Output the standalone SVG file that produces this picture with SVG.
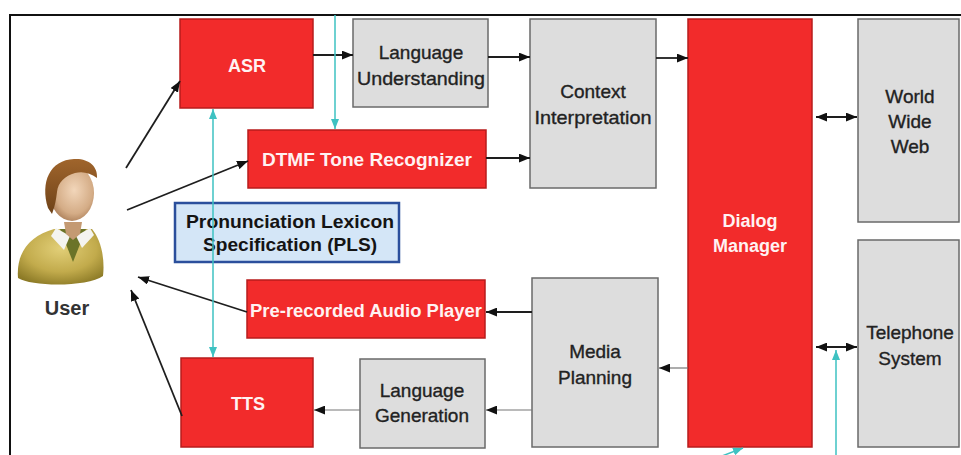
<svg xmlns="http://www.w3.org/2000/svg" width="961" height="455" viewBox="0 0 961 455">
  <style>
    .red { fill: #f22b2b; stroke: #b81c1c; stroke-width: 1.5; }
    .gray { fill: #dddddd; stroke: #6a6a6a; stroke-width: 1.5; }
    .rt { font-family: "Liberation Sans", Arial, sans-serif; font-size: 18px; font-weight: bold; fill: #fff2f2; text-anchor: middle; }
    .gt { font-family: "Liberation Sans", Arial, sans-serif; font-size: 19px; fill: #222222; stroke: #222222; stroke-width: 0.35; text-anchor: middle; }
    .bt { font-family: "Liberation Sans", Arial, sans-serif; font-size: 19px; font-weight: bold; fill: #141414; text-anchor: middle; }
    .arrow { fill: none; stroke: #1e1e1e; stroke-width: 1.8; marker-end: url(#ah); }
    .faint { fill: none; stroke: #777777; stroke-width: 1.2; marker-end: url(#ah); }
    .both { fill: none; stroke: #1e1e1e; stroke-width: 1.8; marker-start: url(#ah); marker-end: url(#ah); }
    .teal { fill: none; stroke: #3ec2c2; stroke-width: 1.5; }
  </style>
  <defs>
    <marker id="ah" viewBox="0 0 10 8" refX="10" refY="4" markerWidth="11" markerHeight="9" markerUnits="userSpaceOnUse" orient="auto-start-reverse">
      <path d="M0,0 L10,4 L0,8 Z" fill="#111"/>
    </marker>
    <marker id="th" viewBox="0 0 10 8" refX="10" refY="4" markerWidth="10" markerHeight="8" markerUnits="userSpaceOnUse" orient="auto-start-reverse">
      <path d="M0,0 L10,4 L0,8 Z" fill="#3ec2c2"/>
    </marker>
    <radialGradient id="skin" cx="0.55" cy="0.45" r="0.6">
      <stop offset="0" stop-color="#f2d6ba"/>
      <stop offset="0.7" stop-color="#d4ac86"/>
      <stop offset="1" stop-color="#a97c56"/>
    </radialGradient>
    <linearGradient id="hair" x1="0" y1="0" x2="0" y2="1">
      <stop offset="0" stop-color="#a0652c"/>
      <stop offset="1" stop-color="#6e4218"/>
    </linearGradient>
    <radialGradient id="sweater" cx="0.5" cy="0.35" r="0.7">
      <stop offset="0" stop-color="#e2cf78"/>
      <stop offset="0.6" stop-color="#c2ab4c"/>
      <stop offset="1" stop-color="#8c7a26"/>
    </radialGradient>
  </defs>

  <rect width="961" height="455" fill="#ffffff"/>
  <!-- outer frame -->
  <path d="M10,455 L10,15 L961,15" fill="none" stroke="#111" stroke-width="2"/>

  <g id="user">
    <path d="M18,278 C16,252 30,236 54,229 L92,229 C101,240 105,258 103,276 C88,287 32,287 18,278 Z" fill="url(#sweater)"/>
    <path d="M60,229 L86,229 L73,262 Z" fill="#6b7428"/>
    <path d="M56,228 L70,236 L64,250 L51,236 Z" fill="#f4f4f0"/>
    <path d="M90,228 L76,236 L82,248 L94,235 Z" fill="#f4f4f0"/>
    <path d="M64,222 L82,222 L80,234 L73,240 L66,234 Z" fill="#c49a72"/>
    <ellipse cx="72" cy="193" rx="22" ry="28" fill="url(#skin)"/>
    <path d="M48,208 C40,182 50,160 74,159 C88,158 98,166 97,178 C90,173 83,171 75,173 C65,176 58,182 57,192 C56,200 55,206 52,214 Z" fill="url(#hair)"/>
    <text x="67" y="315" font-family="'Liberation Sans', Arial, sans-serif" font-size="20" font-weight="bold" fill="#333" text-anchor="middle">User</text>
  </g>

  <g id="asr">
    <rect class="red" x="180" y="19" width="133" height="89"/>
    <text class="rt" x="247" y="72">ASR</text>
  </g>
  <g id="dtmf">
    <rect class="red" x="248" y="130" width="238" height="58"/>
    <text class="rt" x="367" y="166" textLength="210" lengthAdjust="spacingAndGlyphs">DTMF Tone Recognizer</text>
  </g>
  <g id="pls">
    <rect x="175" y="203" width="224" height="59" fill="#d4e6f7" stroke="#2b4f9c" stroke-width="2.5"/>
    <text class="bt" x="290" y="228" textLength="208" lengthAdjust="spacingAndGlyphs">Pronunciation Lexicon</text>
    <text class="bt" x="290" y="251" textLength="174" lengthAdjust="spacingAndGlyphs">Specification (PLS)</text>
  </g>
  <g id="audio-player">
    <rect class="red" x="247" y="280" width="238" height="58"/>
    <text class="rt" x="366" y="317" textLength="232" lengthAdjust="spacingAndGlyphs">Pre-recorded Audio Player</text>
  </g>
  <g id="tts">
    <rect class="red" x="181" y="358" width="132" height="89"/>
    <text class="rt" x="248" y="410">TTS</text>
  </g>
  <g id="language-understanding">
    <rect class="gray" x="353" y="19" width="135" height="88"/>
    <text class="gt" x="421" y="59">Language</text>
    <text class="gt" x="421" y="85" textLength="128" lengthAdjust="spacingAndGlyphs">Understanding</text>
  </g>
  <g id="context-interpretation">
    <rect class="gray" x="530" y="19" width="126" height="169"/>
    <text class="gt" x="593" y="98">Context</text>
    <text class="gt" x="593" y="124" textLength="117" lengthAdjust="spacingAndGlyphs">Interpretation</text>
  </g>
  <g id="dialog-manager">
    <rect class="red" x="688" y="19" width="124" height="428"/>
    <text class="rt" x="750" y="227">Dialog</text>
    <text class="rt" x="750" y="252">Manager</text>
  </g>
  <g id="world-wide-web">
    <rect class="gray" x="858" y="19" width="101" height="203"/>
    <text class="gt" x="910" y="103">World</text>
    <text class="gt" x="910" y="128">Wide</text>
    <text class="gt" x="910" y="153">Web</text>
  </g>
  <g id="telephone-system">
    <rect class="gray" x="858" y="240" width="101" height="207"/>
    <text class="gt" x="910" y="339">Telephone</text>
    <text class="gt" x="910" y="365">System</text>
  </g>
  <g id="media-planning">
    <rect class="gray" x="532" y="278" width="126" height="169"/>
    <text class="gt" x="595" y="358">Media</text>
    <text class="gt" x="595" y="384">Planning</text>
  </g>
  <g id="language-generation">
    <rect class="gray" x="360" y="359" width="125" height="89"/>
    <text class="gt" x="422" y="397">Language</text>
    <text class="gt" x="422" y="422">Generation</text>
  </g>

  <g id="connectors">
    <path class="arrow" d="M313,55 L353,55"/>
    <path class="arrow" d="M488,57 L530,57"/>
    <path class="arrow" d="M486,158 L530,158"/>
    <path class="arrow" d="M656,58 L688,58"/>
    <path class="both" d="M816,117 L857,117"/>
    <path class="both" d="M816,347 L857,347"/>
    <path class="faint" d="M688,368 L659,368"/>
    <path class="arrow" d="M532,312 L486,312"/>
    <path class="faint" d="M532,410 L486,410"/>
    <path class="faint" d="M360,410 L314,410"/>
    <path class="arrow" d="M126,168 L180,81"/>
    <path class="arrow" d="M127,210 L248,161"/>
    <path class="arrow" d="M247,312 L138,277"/>
    <path class="arrow" d="M182,416 L131,290"/>
    <path class="teal" d="M335,15 L335,129" marker-end="url(#th)"/>
    <path class="teal" d="M213,109 L213,357" marker-start="url(#th)" marker-end="url(#th)"/>
    <path class="teal" d="M836,455 L836,350" marker-end="url(#th)"/>
    <path class="teal" d="M722,456 L743,448" marker-end="url(#th)"/>
  </g>
</svg>
